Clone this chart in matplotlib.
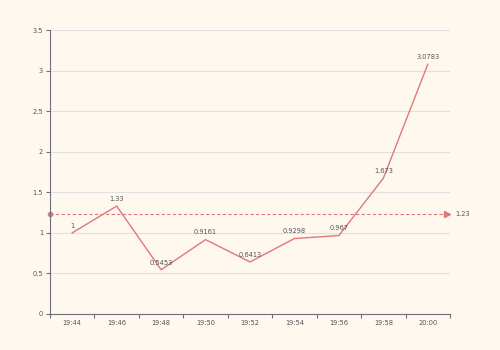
import matplotlib.pyplot as plt

# Data
times = ['19:44', '19:46', '19:48', '19:50', '19:52', '19:54', '19:56', '19:58', '20:00']
values = [1, 1.33, 0.5453, 0.9161, 0.6413, 0.9298, 0.967, 1.673, 3.0783]
labels = ['1', '1.33', '0.5453', '0.9161', '0.6413', '0.9298', '0.967', '1.673', '3.0783']
avg_value = 1.23

bg = '#fef8ef'
line_color = '#e0787a'
text_color = '#555555'
axis_color = '#6e7079'

fig = plt.figure(figsize=(5, 3.5), dpi=100, facecolor=bg)
ax = fig.add_axes([0.1, 0.103, 0.8, 0.811])
ax.set_facecolor(bg)

x = list(range(len(times)))
ax.plot(x, values, color=line_color, linewidth=1.0)
for xi, v, lab in zip(x, values, labels):
    ax.annotate(lab, (xi, v), xytext=(0, 3), textcoords='offset points',
                ha='center', va='bottom', fontsize=4.8, color=text_color)

# average mark line
trans = ax.get_yaxis_transform()
ax.plot([0, 0.99], [avg_value, avg_value], transform=trans, color=line_color,
        linewidth=0.8, linestyle=(0, (3, 2)), clip_on=False)
ax.plot([0], [avg_value], 'o', transform=trans, color=line_color, markersize=3, clip_on=False)
ax.plot([0.993], [avg_value], marker='>', transform=trans, color=line_color,
        markersize=4, clip_on=False)
ax.text(1.012, avg_value, '1.23', transform=trans, fontsize=4.8, color=text_color,
        va='center', ha='left')

ax.set_xlim(-0.5, len(times) - 0.5)
ax.set_ylim(0, 3.5)
ax.set_yticks([0, 0.5, 1, 1.5, 2, 2.5, 3, 3.5])
ax.set_yticklabels(['0', '0.5', '1', '1.5', '2', '2.5', '3', '3.5'])
ax.set_xticks([i - 0.5 for i in range(len(times) + 1)])
ax.set_xticklabels([])
ax.set_xticks(x, minor=True)
ax.set_xticklabels(times, minor=True)

ax.tick_params(axis='x', which='major', length=3, color=axis_color, width=0.8)
ax.tick_params(axis='x', which='minor', length=0, labelsize=4.8, labelcolor=text_color, pad=4)
ax.tick_params(axis='y', length=3, color=axis_color, width=0.8, labelsize=4.8,
               labelcolor=text_color, pad=2)

ax.grid(axis='y', color='#e0e0e0', linewidth=0.8)
ax.set_axisbelow(True)
for s in ['top', 'right']:
    ax.spines[s].set_visible(False)
for s in ['left', 'bottom']:
    ax.spines[s].set_color(axis_color)
    ax.spines[s].set_linewidth(0.8)

fig.savefig('out.png', dpi=100, facecolor=bg)
